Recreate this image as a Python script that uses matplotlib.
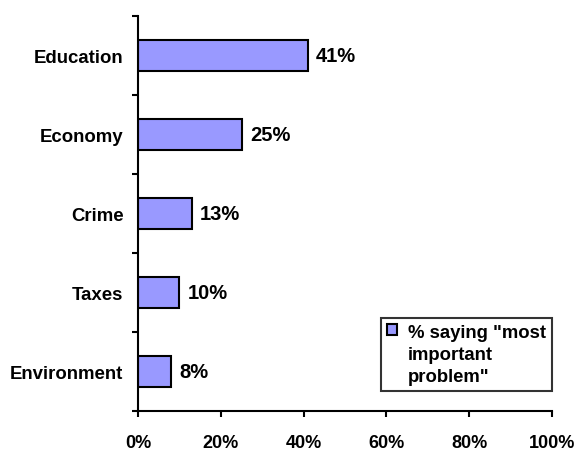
import matplotlib.pyplot as plt

plt.rcParams['font.family'] = ['Liberation Sans', 'DejaVu Sans']
plt.rcParams['font.weight'] = 'bold'

categories = ["Environment", "Taxes", "Crime", "Economy", "Education"]
percent_saying = [8, 10, 13, 25, 41]
series_label = '% saying "most\nimportant\nproblem"'
xtick_values = [0, 20, 40, 60, 80, 100]

fig = plt.figure(figsize=(5.79, 4.52), dpi=100)
ax = fig.add_axes([138 / 579, 1 - 412 / 452, (552 - 138) / 579, (412 - 17) / 452])

pos = list(range(len(categories)))
bars = ax.barh(pos, percent_saying, height=0.4, color="#9999FF",
               edgecolor="black", linewidth=1.5, label=series_label)

for b, v in zip(bars, percent_saying):
    ax.text(b.get_width() + 2.0, b.get_y() + b.get_height() / 2, f"{v}%",
            va="center", ha="left", fontsize=14.5, fontweight="bold")

ax.set_xlim(0, 100)
ax.set_ylim(-0.5, len(categories) - 0.5)
ax.set_xticks(xtick_values)
ax.set_xticklabels([f"{t}%" for t in xtick_values], fontsize=13, fontweight="bold")
ax.tick_params(axis="x", direction="out", length=4.5, width=1.5, pad=12)

# category labels sit at bar centres, tick marks sit on band boundaries
ax.set_yticks([p + 0.5 for p in pos[:-1]] + [-0.5, len(categories) - 0.5])
ax.set_yticklabels([])
ax.set_yticks(pos, minor=True)
ax.set_yticklabels(categories, minor=True, fontsize=13.4, fontweight="bold")
ax.tick_params(axis="y", which="major", direction="out", length=4.5, width=1.5)
ax.tick_params(axis="y", which="minor", length=0, pad=10.5)

for side in ("top", "right"):
    ax.spines[side].set_visible(False)
for side in ("left", "bottom"):
    ax.spines[side].set_linewidth(1.5)

leg = ax.legend(loc="upper left", bbox_to_anchor=(381 / 579, 1 - 319 / 452),
                bbox_transform=fig.transFigure, frameon=True, fancybox=False,
                fontsize=13.3, handlelength=0.5, handleheight=0.5,
                handletextpad=0.6, borderpad=0.35, borderaxespad=0)
leg.get_frame().set_edgecolor("black")
leg.get_frame().set_linewidth(1.5)
for t in leg.get_texts():
    t.set_fontweight("bold")
    t.set_linespacing(1.35)
# put the swatch next to the first line of the wrapped label
for col in leg._legend_handle_box.get_children():
    for row in col.get_children():
        row.align = "top"

fig.savefig("out.png", dpi=100)
